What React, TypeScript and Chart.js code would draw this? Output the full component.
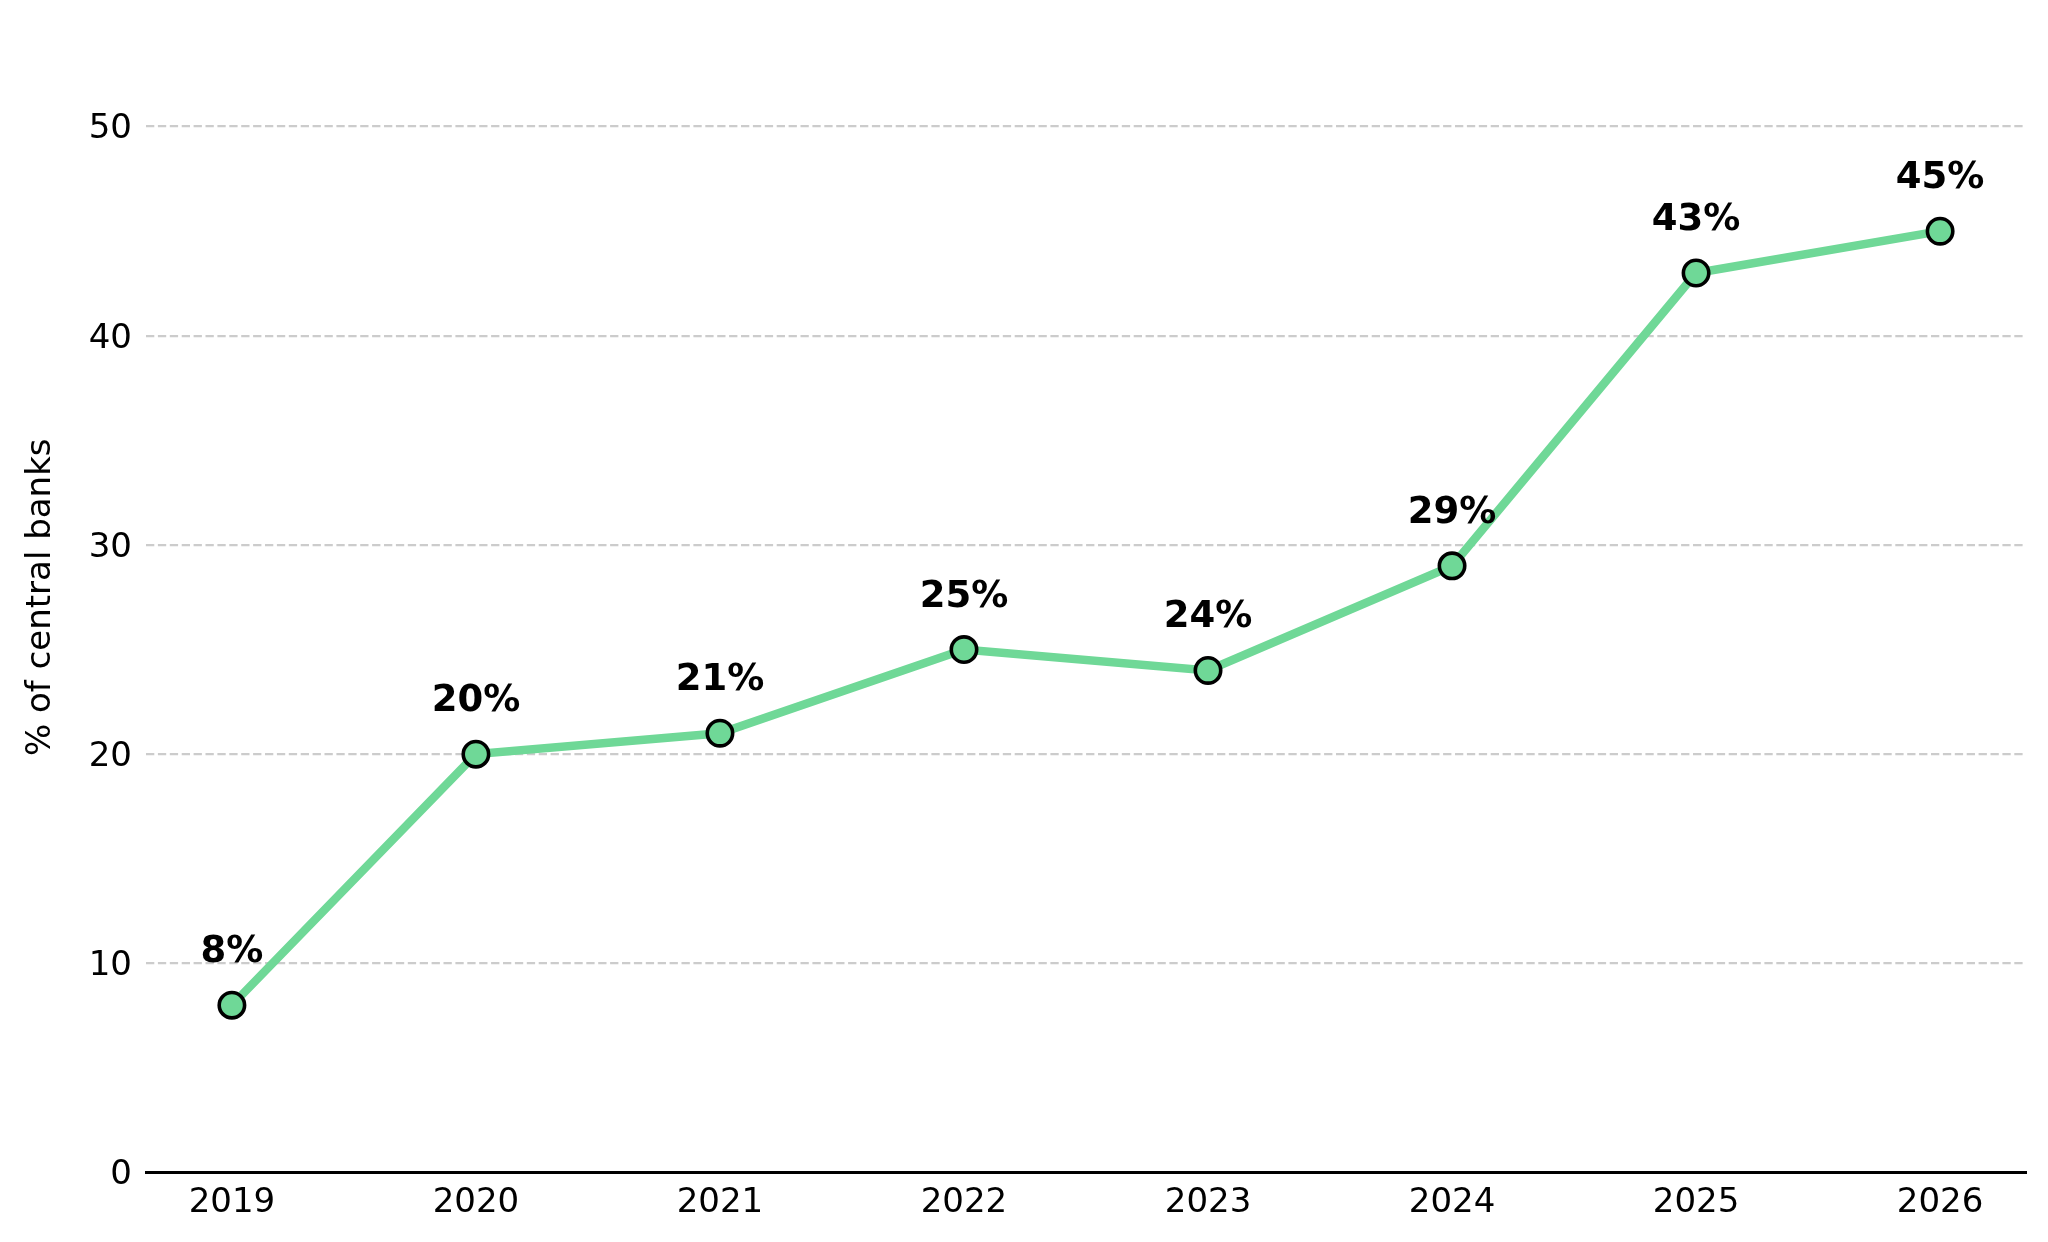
import React, { useEffect, useRef } from 'react';
import { Chart, registerables } from 'chart.js';

Chart.register(...registerables);

const YEARS = [2019, 2020, 2021, 2022, 2023, 2024, 2025, 2026];
const SHARE = [8, 20, 21, 25, 24, 29, 43, 45];
const Y_TICKS = [0, 10, 20, 30, 40, 50];
const Y_TITLE = '% of central banks';

const GREEN = '#6fd897';
const FONT = '"DejaVu Sans", sans-serif';

const valueLabels = {
  id: 'valueLabels',
  afterDatasetsDraw(chart: any) {
    const ctx = chart.ctx;
    const meta = chart.getDatasetMeta(0);
    ctx.save();
    ctx.font = `bold 37px ${FONT}`;
    ctx.fillStyle = '#000';
    ctx.textAlign = 'center';
    ctx.textBaseline = 'alphabetic';
    meta.data.forEach((pt: any, i: number) => {
      ctx.fillText(`${SHARE[i]}%`, pt.x, pt.y - 43);
    });
    ctx.restore();
  },
};

export default function App() {
  const ref = useRef<HTMLCanvasElement | null>(null);

  useEffect(() => {
    if (!ref.current) return;
    const chart = new Chart(ref.current, {
      type: 'line',
      data: {
        datasets: [
          {
            data: YEARS.map((y, i) => ({ x: y, y: SHARE[i] })),
            borderColor: GREEN,
            borderWidth: 8.5,
            tension: 0,
            pointRadius: 12.7,
            pointHoverRadius: 12.7,
            pointBackgroundColor: GREEN,
            pointBorderColor: '#000',
            pointBorderWidth: 3.6,
            clip: false as any,
          },
        ],
      },
      options: {
        animation: false,
        responsive: false,
        devicePixelRatio: 1,
        events: [],
        layout: { padding: { top: 22, right: 22, bottom: 0, left: 0 } },
        plugins: {
          legend: { display: false },
          tooltip: { enabled: false },
          title: { display: false },
        },
        scales: {
          x: {
            type: 'linear',
            min: YEARS[0] - 0.352,
            max: YEARS[YEARS.length - 1] + 0.352,
            afterBuildTicks: (s: any) => {
              s.ticks = YEARS.map((v) => ({ value: v }));
            },
            afterFit: (s: any) => {
              s.height = 69.5;
              s.paddingLeft = 0;
              s.paddingRight = 0;
            },
            grid: { display: false, drawTicks: false },
            border: { display: true, color: '#000', width: 3 },
            ticks: {
              color: '#000',
              font: { family: FONT, size: 34 },
              padding: 10,
              autoSkip: false,
              maxRotation: 0,
              callback: (v: any) => String(v),
            },
          },
          y: {
            type: 'linear',
            min: 0,
            max: 55,
            afterBuildTicks: (s: any) => {
              s.ticks = Y_TICKS.map((v) => ({ value: v }));
            },
            afterFit: (s: any) => {
              s.width = 146;
              s.paddingTop = 0;
              s.paddingBottom = 0;
            },
            grid: {
              drawTicks: false,
              lineWidth: 2.2,
              color: (c: any) => (c.tick && c.tick.value === 0 ? 'rgba(0,0,0,0)' : '#cccccc'),
            },
            border: { display: false, dash: [8.3, 3.6] },
            ticks: {
              color: '#000',
              font: { family: FONT, size: 34 },
              padding: 14,
              labelOffset: 3,
              callback: (v: any) => String(v),
            },
            title: {
              display: true,
              text: Y_TITLE,
              color: '#000',
              font: { family: FONT, size: 34 },
              padding: { top: 21, bottom: 0 },
            },
          },
        },
      },
      plugins: [valueLabels],
    });
    return () => chart.destroy();
  }, []);

  return (
    <div style={{ position: 'fixed', left: 0, top: 0, width: 2048, height: 1242, background: '#fff' }}>
      <canvas ref={ref} width={2048} height={1242} style={{ display: 'block', width: 2048, height: 1242 }} />
    </div>
  );
}
